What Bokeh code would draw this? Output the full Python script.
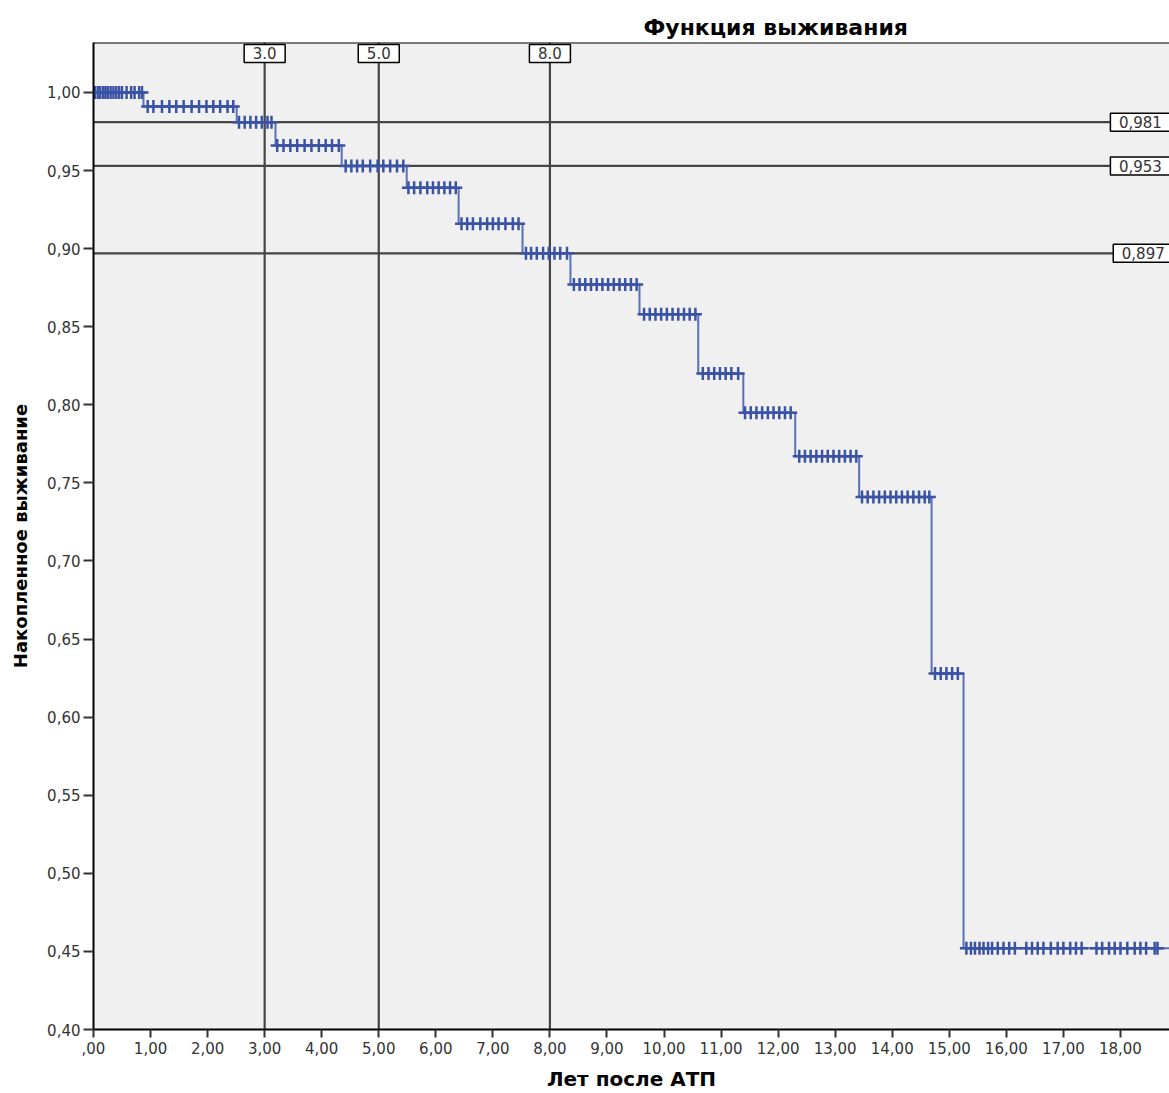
import numpy as np
from bokeh.plotting import figure
from bokeh.models import ColumnDataSource, FixedTicker, Range1d, Span
from bokeh.embed import file_html
from bokeh.resources import INLINE
from bokeh.core.properties import value

# ---------------- data ----------------
event_times = [0.0, 0.876, 2.51, 3.19, 4.35, 5.49, 6.40, 7.52, 8.36, 9.57,
               10.60, 11.39, 12.30, 13.42, 14.69, 15.25]
survival = [1.000, 0.991, 0.981, 0.966, 0.953, 0.939, 0.916, 0.897, 0.877,
            0.858, 0.820, 0.795, 0.767, 0.741, 0.628, 0.452]
max_followup = 19.3

censor_times = [
    0.03, 0.08, 0.12, 0.17, 0.21, 0.25, 0.30, 0.35, 0.40, 0.45, 0.50, 0.58, 0.66, 0.72, 0.80, 0.85,
    0.95, 1.05, 1.20, 1.33, 1.45, 1.58, 1.72, 1.85, 1.98, 2.10, 2.22, 2.35, 2.45,
    2.55, 2.65, 2.75, 2.85, 2.95, 3.05, 3.12,
    3.22, 3.33, 3.45, 3.57, 3.70, 3.82, 3.95, 4.07, 4.18, 4.30,
    4.42, 4.52, 4.62, 4.72, 4.85, 4.98, 5.08, 5.20, 5.32, 5.43,
    5.52, 5.62, 5.73, 5.85, 5.95, 6.05, 6.15, 6.25, 6.35,
    6.45, 6.55, 6.65, 6.78, 6.90, 7.00, 7.10, 7.22, 7.35, 7.45,
    7.58, 7.67, 7.77, 7.88, 7.98, 8.08, 8.18, 8.30,
    8.42, 8.52, 8.62, 8.72, 8.82, 8.92, 9.02, 9.12, 9.22, 9.32, 9.42, 9.52,
    9.65, 9.75, 9.85, 9.95, 10.05, 10.15, 10.25, 10.35, 10.45, 10.55,
    10.68, 10.78, 10.88, 10.98, 11.08, 11.18, 11.30,
    11.42, 11.52, 11.62, 11.72, 11.82, 11.92, 12.02, 12.12, 12.22,
    12.37, 12.47, 12.57, 12.67, 12.77, 12.87, 12.97, 13.07, 13.17, 13.27, 13.37,
    13.47, 13.57, 13.67, 13.77, 13.87, 13.97, 14.07, 14.17, 14.27, 14.37, 14.47, 14.57, 14.65,
    14.75, 14.85, 14.95, 15.05, 15.15,
    15.30, 15.38, 15.45, 15.53, 15.60, 15.68, 15.75, 15.85, 15.95, 16.05, 16.15,
    16.35, 16.45, 16.55, 16.65, 16.78, 16.90, 17.00, 17.12, 17.22, 17.32,
    17.58, 17.68, 17.80, 17.90, 18.00, 18.12, 18.25, 18.35, 18.45,
    18.60, 18.65,
]

ref_years = [3.0, 5.0, 8.0]
ref_year_labels = ["3.0", "5.0", "8.0"]
ref_surv = [0.981, 0.953, 0.897]
ref_surv_labels = ["0,981", "0,953", "0,897"]

x_ticks = [0, 1, 2, 3, 4, 5, 6, 7, 8, 9, 10, 11, 12, 13, 14, 15, 16, 17, 18]
x_tick_labels = [",00", "1,00", "2,00", "3,00", "4,00", "5,00", "6,00", "7,00",
                 "8,00", "9,00", "10,00", "11,00", "12,00", "13,00", "14,00",
                 "15,00", "16,00", "17,00", "18,00"]
y_ticks = [0.40, 0.45, 0.50, 0.55, 0.60, 0.65, 0.70, 0.75, 0.80, 0.85, 0.90, 0.95, 1.00]
y_tick_labels = ["0,40", "0,45", "0,50", "0,55", "0,60", "0,65", "0,70", "0,75",
                 "0,80", "0,85", "0,90", "0,95", "1,00"]

# ---------------- derived ----------------
et = np.array(event_times)
sv = np.array(survival)
ct = np.array(censor_times)
cs = sv[np.searchsorted(et, ct, side="right") - 1]

step_x = list(event_times) + [max_followup]
step_y = list(survival) + [survival[-1]]

X0, X1 = 0.0, 18.86
Y0, Y1 = 0.40, 1.032

FONT = "DejaVu Sans"
LINE_COL = "#5a70b9"
MARK_COL = "#3a53a5"
REF_COL = "#454545"

p = figure(width=1169, height=1093, output_backend="svg", toolbar_location=None,
           x_range=Range1d(X0, X1), y_range=Range1d(Y0, Y1),
           min_border_left=93, min_border_right=0, min_border_top=42, min_border_bottom=64)

p.title.text = "Функция выживания"
p.title.align = "left"
p.title.offset = 550
p.title.text_font = FONT
p.title.text_font_size = "22px"
p.title.text_font_style = "bold"
p.title.text_color = "#000000"
p.title.standoff = 6

p.background_fill_color = "#f0f0f0"
p.border_fill_color = "white"
p.outline_line_color = None
p.xgrid.visible = False
p.ygrid.visible = False
p.add_layout(Span(location=Y1, dimension="width", line_color="black", line_width=2))

# axes
p.xaxis.ticker = FixedTicker(ticks=x_ticks)
p.xaxis.major_label_overrides = {t: l for t, l in zip(x_ticks, x_tick_labels)}
p.yaxis.ticker = FixedTicker(ticks=y_ticks)
p.yaxis.major_label_overrides = {t: l for t, l in zip(y_ticks, y_tick_labels)}
for ax in (p.xaxis[0], p.yaxis[0]):
    ax.minor_tick_line_color = None
    ax.major_tick_in = 0
    ax.axis_line_color = "black"
    ax.axis_line_width = 2
    ax.major_tick_line_color = "#333333"
    ax.major_tick_line_width = 2
    ax.major_label_text_font = FONT
    ax.major_label_text_font_size = "15px"
    ax.major_label_text_color = "#333333"
    ax.axis_label_text_font = FONT
    ax.axis_label_text_font_style = "bold"
    ax.axis_label_text_color = "#000000"

p.xaxis.major_tick_out = 8
p.xaxis.major_label_standoff = 4
p.xaxis.axis_label = "Лет после АТП"
p.xaxis.axis_label_text_font_size = "20px"
p.xaxis.axis_label_standoff = 10

p.yaxis.major_tick_out = 10
p.yaxis.major_label_standoff = 3
p.yaxis.axis_label = "Накопленное выживание"
p.yaxis.axis_label_text_font_size = "18px"
p.yaxis.axis_label_standoff = 13

# reference lines
p.segment(x0=ref_years, y0=[Y0] * 3, x1=ref_years, y1=[Y1] * 3,
          line_color=REF_COL, line_width=2.2)
p.segment(x0=[X0] * 3, y0=ref_surv, x1=[X1] * 3, y1=ref_surv,
          line_color=REF_COL, line_width=2.2)

# survival curve
p.step(step_x, step_y, mode="after", line_color=LINE_COL, line_width=2)
p.scatter(ct, cs, marker="cross", size=13, line_color=MARK_COL, line_width=2.5)

# reference labels (top)
top_src = ColumnDataSource(dict(x=ref_years, y=[1.025] * 3, t=ref_year_labels))
p.rect(x="x", y="y", width=41, height=18, width_units="screen", height_units="screen",
       source=top_src, fill_color="white", line_color="black", line_width=1.5)
p.text(x="x", y="y", text="t", source=top_src, text_align="center", text_baseline="middle",
       text_font=value(FONT), text_font_size="15px", text_color="#333333")

# reference labels (right)
right_src = ColumnDataSource(dict(x=[18.35, 18.35, 18.40], y=ref_surv, t=ref_surv_labels))
p.rect(x="x", y="y", width=60, height=18, width_units="screen", height_units="screen",
       source=right_src, fill_color="white", line_color="black", line_width=1.5)
p.text(x="x", y="y", text="t", source=right_src, text_align="center", text_baseline="middle",
       text_font=value(FONT), text_font_size="15px", text_color="#333333")

open("out.html", "w").write(file_html(p, INLINE))
